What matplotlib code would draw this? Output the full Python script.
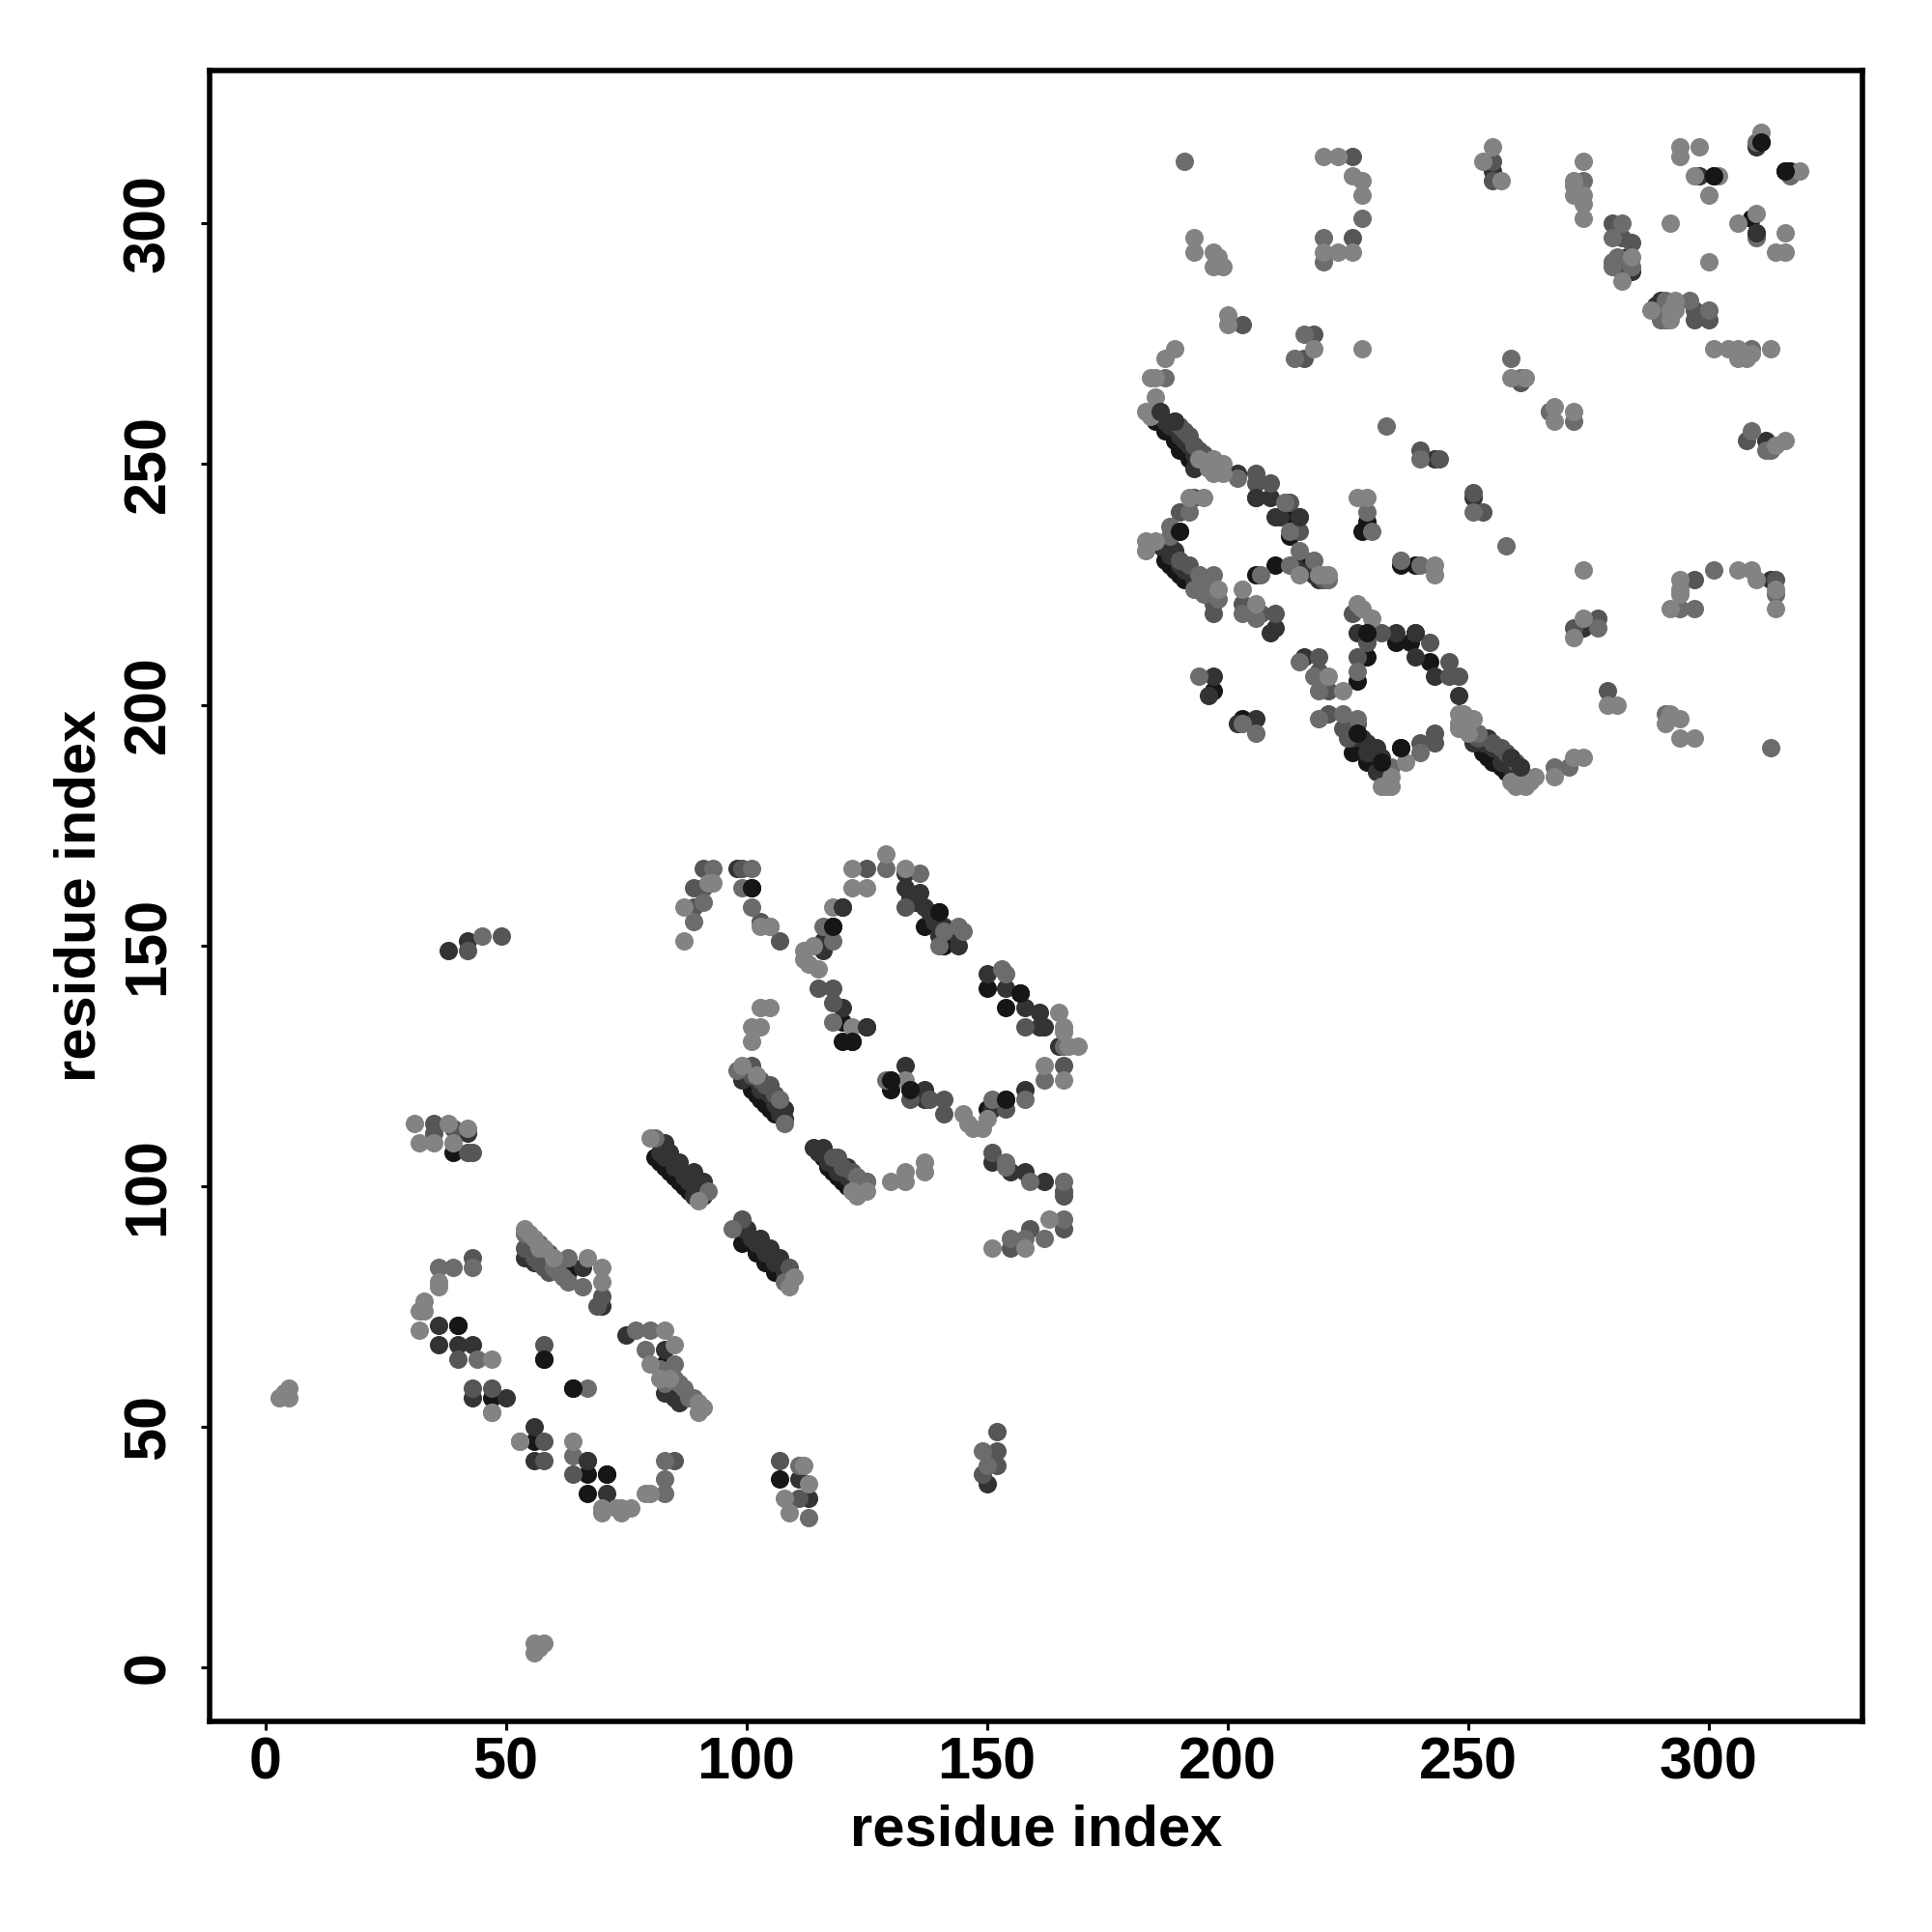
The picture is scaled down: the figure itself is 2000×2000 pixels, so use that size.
import matplotlib
matplotlib.use('Agg')
import matplotlib.pyplot as plt
import numpy as np

plt.rcParams['font.family'] = ['Liberation Sans', 'DejaVu Sans']
plt.rcParams['font.weight'] = 'bold'

# contactos (residuo i, residuo j), agrupados por tono de gris
pts_black = [
    (185,259),(187,257),(189,255),(190,253),(192,251),(213,239),(213,235),(216,230),(210,229),(206,227),
    (190,236),(188,233),(187,230),(189,228),(191,226),(194,227),(229,215),(238,213),(235,213),(242,209),
    (229,210),(227,205),(197,203),(203,197),(227,194),(226,190),(229,188),(232,188),(236,191),(253,190),
    (256,189),(258,186),(229,238),(228,236),(236,229),(239,229),
    (311,317),(301,310),(316,311),(317,311),(309,301),
    (101,162),(140,157),(137,154),(141,150),(118,154),(120,134),(120,130),(122,130),
    (101,120),(103,118),(105,116),(81,106),(83,104),(85,102),(87,100),(116,106),(118,103),(120,101),
    (99,88),(102,86),(104,84),(106,82),(150,141),(157,140),(154,137),(130,122),(130,120),(134,120),
    (154,118),(150,116),(40,71),(47,56),(58,64),(64,58),(56,47),(67,40),(71,40),(67,36),(63,82),(83,63),(107,39),(39,107),
    (82,105),(84,103),(86,101),(88,99),(100,89),(101,88),(103,86),(105,84),(107,82),(102,119),(104,117),(106,115),
    (117,104),(119,102),(121,100),(187,232),(188,229),(190,227),(228,191),(230,189),(227,192),(231,187),(233,186),
    (255,188),(257,187),(259,185),(254,189),(186,259),(188,257),
]
pts_dark = [
    (186,261),(189,259),(193,249),(202,248),(206,243),(209,243),(210,239),(211,239),(215,239),(214,229),
    (186,233),(209,215),(210,216),(227,215),(239,215),(235,215),(239,210),(243,206),(248,202),(216,210),
    (197,206),(196,202),(202,196),(206,197),(230,190),(229,192),(231,186),(254,193),(251,192),(259,189),(261,187),
    (251,243),(243,251),(255,311),(282,292),(284,290),(290,284),(298,310),(310,316),(310,298),(313,226),(274,216),(312,255),
    (98,166),(133,165),(133,162),(136,161),(137,158),(141,154),(144,150),(120,158),(116,151),(116,149),(120,137),(125,133),
    (99,122),(108,116),(108,114),(84,107),(86,105),(89,103),(91,101),(89,98),(91,98),(83,109),
    (114,108),(116,108),(121,104),(151,105),(155,103),(158,103),(162,101),(100,91),(103,89),(105,87),(107,85),
    (150,144),(154,141),(158,137),(161,136),(161,133),(162,133),(165,129),(133,125),(137,120),(137,118),(158,120),(151,116),
    (42,111),(36,71),(36,67),(40,67),(43,67),(43,56),(50,56),(56,50),(56,43),(67,43),(71,36),(66,83),(75,69),(83,66),(83,57),(85,56),
    (111,39),(113,35),(54,85),(56,84),(70,75),(150,38),(38,149),(42,151),
    (82,107),(83,106),(85,104),(87,102),(88,101),(90,99),(99,91),(101,89),(102,88),(104,86),(106,84),(108,82),
    (100,123),(102,122),(103,120),(105,119),(106,117),(107,115),(115,107),(117,105),(119,103),(121,102),(122,100),(123,100),
    (187,259),(188,258),(190,256),(191,255),(192,254),(193,252),(194,250),(188,231),(190,229),(192,228),(193,226),(191,228),(189,232),
    (226,193),(228,193),(231,191),(229,190),(232,189),(233,187),(253,192),(255,191),(257,188),(259,187),
    (84,58),(85,57),(86,55),(87,56),(217,228),(218,227),(219,226),(281,291),(282,290),(283,293),(289,283),
    (134,160),(135,159),(138,157),(139,155),(142,153),(140,152),
]
pts_mid = [
    (191,257),(193,254),(206,248),(206,246),(209,246),(213,242),(215,236),(193,243),(190,240),(190,230),(192,229),
    (197,221),(197,219),(203,221),(207,219),(210,219),(232,215),(242,213),(246,209),(246,206),(248,206),
    (229,213),(227,210),(219,210),(219,207),(221,203),(221,198),(224,195),(225,193),(240,192),(243,194),(243,192),
    (226,219),(257,191),(251,244),(253,240),(240,253),(244,251),(218,277),(216,272),(203,279),(261,267),
    (255,313),(255,309),(280,300),(282,297),(284,296),(290,282),(297,282),(297,280),(300,280),(308,255),(226,314),(226,297),(297,226),(314,226),(277,218),(272,216),(279,203),
    (91,166),(89,162),(91,162),(89,158),(99,166),(103,155),(107,151),(125,166),(133,158),(115,141),(118,141),(118,138),
    (101,125),(104,121),(106,119),(125,101),(119,106),(151,107),(166,99),(166,98),(109,83),(99,93),
    (166,125),(158,133),(134,118),(138,118),(141,118),(141,115),(154,116),(155,87),(159,91),(166,91),
    (35,113),(35,111),(39,112),(42,107),(43,107),(43,85),(40,64),(43,58),(47,58),(58,67),(58,47),(58,43),(64,40),(85,43),
    (107,43),(111,35),(55,88),(54,87),(59,86),(59,82),(69,75),(70,77),(149,40),(152,42),(152,45),(152,49),(42,149),(49,152),
    (101,123),(103,122),(105,121),(118,106),(120,104),(122,103),(124,100),(190,258),(192,256),(194,253),(195,252),(196,250),
    (226,195),(227,196),(225,195),(250,195),(252,193),(255,192),(258,190),(260,188),
    (55,89),(56,87),(57,86),(58,85),(56,85),(58,83),(57,84),(220,226),(283,291),(291,282),
]
pts_gray = [
    (187,268),(202,247),(212,242),(213,236),(215,232),(218,230),(213,229),(192,240),(188,237),(188,235),(197,227),(194,227),
    (193,224),(196,224),(195,223),(198,222),(203,219),(206,218),(219,197),(215,209),(218,206),(219,203),(224,198),(227,197),
    (227,207),(234,187),(240,190),(252,194),(262,185),(268,187),(271,187),(251,240),(229,240),(230,236),(236,230),(240,229),(240,251),(207,227),(194,206),(206,194),(203,196),(258,233),
    (267,261),(272,259),(274,309),(282,300),(280,297),(280,292),(280,291),(291,284),(291,280),(296,284),(300,282),(309,274),(309,257),(313,253),(312,253),(259,272),(261,268),(267,261),
    (233,258),(191,313),(220,297),(220,292),(214,272),(216,277),(228,301),(311,317),(310,317),(317,310),(310,297),
    (294,220),(297,220),(301,228),(314,223),(277,216),(291,198),(313,191),
    (93,166),(91,159),(89,155),(99,162),(101,158),(101,166),(105,154),(136,165),(129,166),(144,154),(145,153),(141,153),(140,150),
    (116,154),(118,151),(118,134),(98,124),(107,118),(108,113),(81,110),(92,99),(97,91),(108,80),(123,102),(125,101),
    (154,105),(154,104),(159,101),(166,101),(153,145),(154,144),(166,129),(162,122),(158,118),(151,118),(129,122),
    (155,89),(158,89),(162,89),(166,93),
    (36,83),(39,83),(43,83),(44,64),(47,53),(67,58),(53,47),(64,44),(83,36),(83,39),(83,43),(111,42),(113,31),
    (57,88),(63,85),(63,80),(66,79),(77,70),(80,70),(79,66),(85,63),(86,59),(88,56),(54,90),(149,45),(150,42),(45,152),
    (60,83),(61,82),(62,81),(85,60),(87,58),(89,56),(82,62),(83,59),(221,226),(281,293),(284,291),(292,283),(290,281),(290,280),
]
pts_light = [
    (183,261),(184,260),(185,264),(185,268),(184,268),(189,274),(187,272),(194,251),(197,251),(198,249),
    (183,234),(183,232),(185,234),(192,243),(195,243),(198,224),(203,224),(206,221),(219,227),(220,227),(221,227),(215,227),
    (227,221),(228,220),(230,218),(221,206),(224,203),(232,183),(234,183),(234,185),(237,188),(233,183),
    (249,198),(248,195),(251,197),(248,196),(260,183),(264,185),(259,184),(268,185),(272,189),(274,189),
    (227,243),(229,243),(243,229),(243,227),(268,262),(268,259),(272,261),(259,268),(262,268),
    (255,316),(253,313),(257,309),(274,313),(272,308),(272,309),(272,306),(274,306),(274,304),(274,301),
    (284,293),(282,288),(294,316),(298,316),(294,314),(311,319),(297,310),(302,310),(300,306),(319,311),
    (292,300),(306,300),(310,302),(316,298),(314,294),(316,294),(300,292),
    (288,282),(293,284),(293,282),(292,280),(301,274),(304,274),(306,274),(313,274),(306,272),(308,272),(309,273),
    (314,254),(316,255),(228,274),(220,314),(223,314),(220,294),(223,294),(226,294),(226,310),(228,309),(228,306),
    (193,297),(193,294),(197,294),(197,291),(199,291),(198,293),(200,281),(200,279),(218,274),(274,228),
    (294,226),(306,228),(309,228),(310,226),(314,224),(314,220),(294,224),(294,223),(292,220),(274,218),(272,214),
    (279,200),(281,200),(292,198),(291,196),(294,197),(294,193),(297,193),
    (92,163),(93,163),(87,158),(87,151),(105,154),(103,154),(122,166),(122,162),(125,162),(129,169),(133,166),
    (118,158),(122,133),(114,150),(112,149),(112,147),(113,146),(115,145),(103,137),(105,137),(101,133),(103,133),(101,130),
    (99,125),(102,123),(80,110),(90,97),(122,99),(125,99),(123,98),(130,101),(133,103),(133,101),(137,105),(137,103),(110,81),(109,79),
    (165,136),(166,133),(166,132),(169,129),(167,129),(162,125),(166,122),(133,122),(145,115),(146,113),(149,112),(147,112),(150,114),
    (151,87),(158,87),(163,93),
    (31,113),(32,109),(35,109),(38,113),(42,112),(39,109),(36,80),(36,79),(33,76),(32,74),(33,74),(32,70),(47,64),
    (5,58),(3,56),(5,56),(4,57),(58,5),(56,5),(56,3),(57,4),
    (47,53),(53,47),(64,47),(70,33),(74,33),(76,33),(73,33),(70,32),(74,32),(79,36),(80,36),
    (112,42),(113,38),(108,35),(109,32),
    (54,91),(60,85),(67,85),(70,83),(70,80),(83,70),(85,67),(80,63),(82,60),(84,60),(90,55),(91,54),(90,53),
    (196,249),(197,248),(199,248),(198,250),(199,250),(250,197),(249,196),(250,194),(248,198),(261,184),(262,183),(263,184),
    (55,90),(56,89),(57,87),(58,87),(292,282),
]
# los que en la figura quedan por encima de los claros
pts_top = [(186,261),(189,259),(206,243),(215,239),(190,236),(229,215),(239,215),(227,194),(232,188),(236,191),(259,189),(261,187),
           (311,317),(301,310),(316,311),(310,298),(101,162),(140,157),(118,154),(120,158),(125,133),(122,130),(157,140),(154,118),
           (130,122),(134,120),(40,71),(58,64),(64,58),(71,40),(67,43)]

ticks = [0, 50, 100, 150, 200, 250, 300]

fig = plt.figure(figsize=(10, 10))
ax = fig.add_axes([0.1085, 0.109, 0.8555, 0.8545])

tonos = [(pts_black, '#161616'), (pts_dark, '#333333'), (pts_mid, '#565656'), (pts_gray, '#6c6c6c'), (pts_light, '#838383')]
for pts, color in tonos:
    p = np.array(pts)
    ax.scatter(p[:, 0], p[:, 1], s=47, c=color, linewidths=0)

# capa de arriba, con su tono original
oscuros = set(pts_black)
for x, y in pts_top:
    ax.scatter([x], [y], s=47, c='#161616' if (x, y) in oscuros else '#333333', linewidths=0)

ax.set_xlim(-11.55, 332)
ax.set_ylim(-11.3, 331.8)
ax.set_xticks(ticks)
ax.set_yticks(ticks)
ax.tick_params(axis='both', length=3.2, width=1.1, labelsize=22)
ax.tick_params(axis='x', pad=2.5)
ax.tick_params(axis='y', pad=9)
plt.setp(ax.get_yticklabels(), rotation=90, va='center')
for s in ax.spines.values():
    s.set_linewidth(2.0)
ax.set_xlabel('residue index', fontsize=21.5, fontweight='bold', labelpad=4.5)
ax.set_ylabel('residue index', fontsize=21.5, fontweight='bold', labelpad=5.5)

fig.savefig('out.png', dpi=200)
